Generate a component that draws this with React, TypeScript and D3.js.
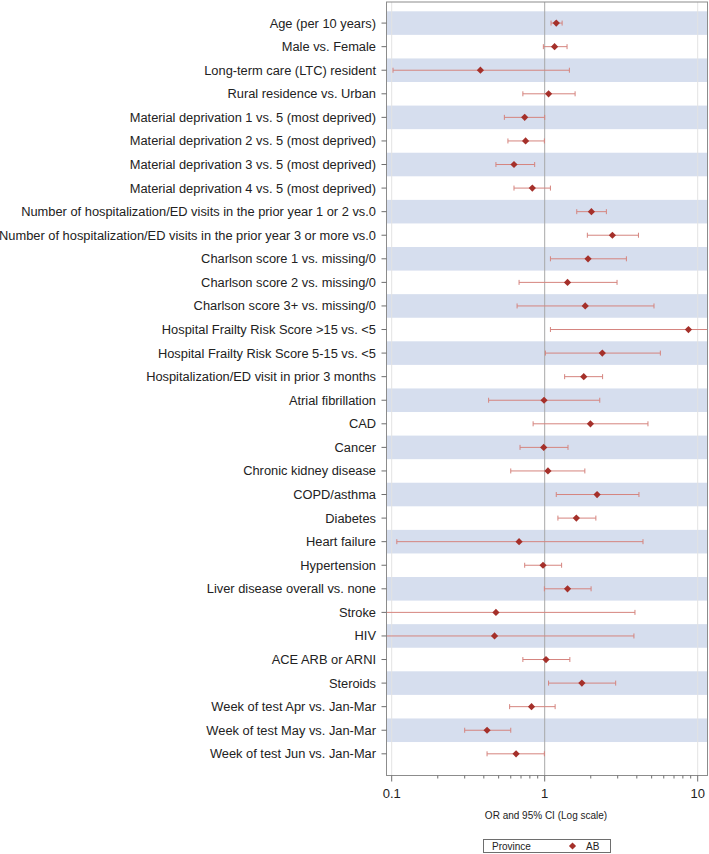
import React from "react";
import * as d3 from "d3";

const categories: string[] = [
  "Age (per 10 years)",
  "Male vs. Female",
  "Long-term care (LTC) resident",
  "Rural residence vs. Urban",
  "Material deprivation 1 vs. 5 (most deprived)",
  "Material deprivation 2 vs. 5 (most deprived)",
  "Material deprivation 3 vs. 5 (most deprived)",
  "Material deprivation 4 vs. 5 (most deprived)",
  "Number of hospitalization/ED visits in the prior year 1 or 2 vs.0",
  "Number of hospitalization/ED visits in the prior year 3 or more vs.0",
  "Charlson score 1 vs. missing/0",
  "Charlson score 2 vs. missing/0",
  "Charlson score 3+ vs. missing/0",
  "Hospital Frailty Risk Score >15 vs. <5",
  "Hospital Frailty Risk Score 5-15 vs. <5",
  "Hospitalization/ED visit in prior 3 months",
  "Atrial fibrillation",
  "CAD",
  "Cancer",
  "Chronic kidney disease",
  "COPD/asthma",
  "Diabetes",
  "Heart failure",
  "Hypertension",
  "Liver disease overall vs. none",
  "Stroke",
  "HIV",
  "ACE ARB or ARNI",
  "Steroids",
  "Week of test Apr vs. Jan-Mar",
  "Week of test May vs. Jan-Mar",
  "Week of test Jun vs. Jan-Mar",
];

const orValues: number[] = [
  1.19, 1.16, 0.38, 1.06, 0.74, 0.75, 0.63, 0.83, 2.02, 2.77, 1.92, 1.41, 1.84, 8.7, 2.38, 1.8,
  0.99, 1.99, 0.985, 1.05, 2.2, 1.61, 0.68, 0.975, 1.41, 0.48, 0.47, 1.02, 1.75, 0.82, 0.42, 0.65,
];
const ciLower: number[] = [
  1.1, 0.98, 0.102, 0.72, 0.545, 0.575, 0.48, 0.63, 1.62, 1.9, 1.09, 0.68, 0.66, 1.09, 1.01, 1.35,
  0.43, 0.84, 0.69, 0.6, 1.19, 1.22, 0.108, 0.74, 0.995, 0.06, 0.06, 0.72, 1.06, 0.59, 0.3, 0.42,
];
const ciUpper: number[] = [
  1.3, 1.4, 1.45, 1.58, 1.0, 0.995, 0.86, 1.09, 2.53, 4.1, 3.42, 2.97, 5.18, 30, 5.7, 2.39,
  2.29, 4.73, 1.42, 1.83, 4.13, 2.16, 4.39, 1.29, 2.01, 3.89, 3.83, 1.46, 2.91, 1.17, 0.6, 0.995,
];

const majorTicks: number[] = [0.1, 1, 10];
const minorTicks: number[] = [0.2, 0.3, 0.4, 0.5, 0.6, 0.7, 0.8, 0.9, 2, 3, 4, 5, 6, 7, 8, 9];
const axisLabel = "OR and 95% CI (Log scale)";
const legendTitle = "Province";
const legendSeries = "AB";

const W = 709;
const H = 854;
const plotLeft = 386.5;
const plotRight = 707.5;
const plotTop = 2;
const plotBottom = 775.5;

const FONT = "'Liberation Sans', Arial, sans-serif";
const BAND = "#d6deee";
const MARK = "#a5302a";
const CI = "#d5847e";

export default function App() {
  const x = d3.scaleLog().domain([0.1, 10]).range([391.7, 697.7]);
  const y = d3
    .scaleBand<string>()
    .domain(categories)
    .range([plotTop + 9.3, plotBottom - 9.9])
    .padding(0);
  const bw = y.bandwidth();
  const diamond = d3.symbol(d3.symbolSquare, 26)();
  const data = categories.map((c, i) => ({ c, i, v: orValues[i], lo: ciLower[i], hi: ciUpper[i] }));

  return (
    <svg
      width={W}
      height={H}
      style={{ position: "absolute", left: 0, top: 0, background: "#fff" }}
      fontFamily={FONT}
    >
      <defs>
        <clipPath id="plotclip">
          <rect x={plotLeft} y={plotTop} width={plotRight - plotLeft} height={plotBottom - plotTop} />
        </clipPath>
      </defs>
      {/* bands */}
      {data
        .filter((d) => d.i % 2 === 0)
        .map((d) => (
          <rect
            key={"b" + d.i}
            x={plotLeft}
            y={y(d.c)!}
            width={plotRight - plotLeft}
            height={bw}
            fill={BAND}
          />
        ))}
      {/* grid lines */}
      {[0.1, 10].map((t) => (
        <line key={"g" + t} x1={x(t)} x2={x(t)} y1={plotTop} y2={plotBottom} stroke="#e3e3e3" strokeWidth={1} />
      ))}
      <line x1={x(1)} x2={x(1)} y1={plotTop} y2={plotBottom} stroke="#a8a8a8" strokeWidth={1} />
      {/* CI and markers */}
      <g clipPath="url(#plotclip)">
        {data.map((d) => {
          const cy = y(d.c)! + bw / 2;
          const x0 = x(d.lo);
          const x1 = x(d.hi);
          return (
            <g key={"m" + d.i}>
              <line x1={x0} x2={x1} y1={cy} y2={cy} stroke={CI} strokeWidth={1} />
              <line x1={x0} x2={x0} y1={cy - 2.5} y2={cy + 2.5} stroke={CI} strokeWidth={1} />
              <line x1={x1} x2={x1} y1={cy - 2.5} y2={cy + 2.5} stroke={CI} strokeWidth={1} />
              <path d={diamond!} transform={`translate(${x(d.v)},${cy}) rotate(45)`} fill={MARK} />
            </g>
          );
        })}
      </g>
      {/* frame */}
      <rect
        x={plotLeft}
        y={plotTop}
        width={plotRight - plotLeft}
        height={plotBottom - plotTop}
        fill="none"
        stroke="#8c8c8c"
        strokeWidth={1}
      />
      {/* y axis */}
      {data.map((d) => {
        const cy = y(d.c)! + bw / 2;
        return (
          <g key={"y" + d.i}>
            <line x1={plotLeft - 5} x2={plotLeft} y1={cy} y2={cy} stroke="#6e6e6e" />
            <text x={376} y={cy} dy="0.35em" textAnchor="end" fontSize={12.85} fill="#222">
              {d.c}
            </text>
          </g>
        );
      })}
      {/* x axis */}
      {majorTicks.map((t) => (
        <g key={"t" + t}>
          <line x1={x(t)} x2={x(t)} y1={plotBottom} y2={plotBottom + 6} stroke="#6e6e6e" />
          <text x={x(t)} y={798} textAnchor="middle" fontSize={13} fill="#222">
            {String(t)}
          </text>
        </g>
      ))}
      {minorTicks.map((t) => (
        <line key={"n" + t} x1={x(t)} x2={x(t)} y1={plotBottom} y2={plotBottom + 3} stroke="#6e6e6e" />
      ))}
      <text x={(plotLeft + plotRight) / 2 - 1} y={818.5} textAnchor="middle" fontSize={10} fill="#222">
        {axisLabel}
      </text>
      {/* legend */}
      <rect x={483.5} y={839.5} width={127} height={13} fill="#fff" stroke="#6e6e6e" strokeWidth={1} />
      <text x={492} y={850} fontSize={10} fill="#222">
        {legendTitle}
      </text>
      <path d={diamond!} transform="translate(572.5,846) rotate(45)" fill={MARK} />
      <text x={586} y={850} fontSize={10} fill="#222">
        {legendSeries}
      </text>
    </svg>
  );
}
